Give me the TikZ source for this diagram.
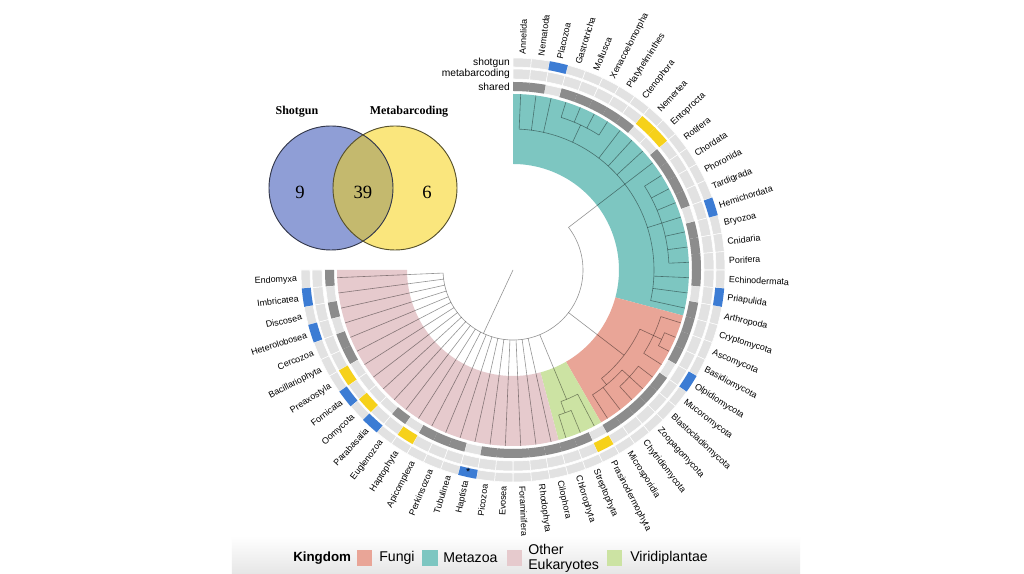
\documentclass[tikz,border=0pt]{standalone}
\usepackage{fontspec}
\setmainfont{Liberation Sans}
\newfontfamily\vennfont{Liberation Serif}

\definecolor{metazoa}{HTML}{7DC6C1}
\definecolor{fungi}{HTML}{E9A597}
\definecolor{otheuk}{HTML}{E6CACD}
\definecolor{viridi}{HTML}{CCE3A3}
\definecolor{cellbg}{HTML}{E2E2E2}
\definecolor{shared}{HTML}{8C8C8C}
\definecolor{metab}{HTML}{F6D11A}
\definecolor{shotg}{HTML}{3C7CD4}
\definecolor{venna}{HTML}{8F9ED6}
\definecolor{vennb}{HTML}{FAE67D}
\definecolor{vennab}{HTML}{C4B96E}

% annular sector: angle from, angle to, inner radius, outer radius
\newcommand{\sect}[4]{(#1:#3) arc[start angle=#1, end angle=#2, radius=#3] -- (#2:#4) arc[start angle=#2, end angle=#1, radius=#4] -- cycle}
\newcommand{\tarc}[3]{\draw[branch] (#2:#1) arc[start angle=#2, end angle=#3, radius=#1];}
\newcommand{\tedge}[3]{\draw[branch] (#1:#2) -- (#1:#3);}

\begin{document}
\begin{tikzpicture}[x=0.75pt, y=0.75pt]
        \tikzstyle{branch}=[draw=black, draw opacity=0.42, line width=0.45pt]
        \tikzstyle{leaflab}=[font=\fontsize{6.7}{8}\selectfont, inner sep=0pt]
        \tikzstyle{ringlab}=[font=\fontsize{7.7}{9}\selectfont, inner sep=0pt, anchor=east]
        \tikzstyle{cell}=[fill=cellbg, draw=white, line width=0.4pt]
        \tikzstyle{venntitle}=[font=\vennfont\bfseries\fontsize{9}{10}\selectfont, inner sep=0pt]
        \tikzstyle{vennnum}=[font=\vennfont\fontsize{14}{16}\selectfont, inner sep=0pt]
        \tikzstyle{legkey}=[minimum width=11.25pt, minimum height=12pt, inner sep=0pt]
        \tikzstyle{leglab}=[font=\fontsize{10.6}{11.2}\selectfont, anchor=west, inner sep=0pt, align=left]

        \useasboundingbox (-513,-304) rectangle (511,270);
        \fill[white] (-513,-304) rectangle (511,270);
        \shade[top color=white, bottom color=black!10] (-281,-266) rectangle (287,-304);

        % clade highlights
        \fill[metazoa] \sect{90}{-15}{106}{176};
        \fill[fungi] \sect{-15}{-60}{106}{176};
        \fill[viridi] \sect{-60}{-75}{106}{176};
        \fill[otheuk] \sect{-75}{-180}{106}{176};

        % tree
        \tedge{-115}{0}{70}
        \tarc{70}{37.5}{-177.5}
        \tedge{37.5}{70}{141}
        \tedge{-37.5}{70}{140}
        \tedge{-67.5}{70}{140}
        \foreach \i in {33,...,53}{\pgfmathsetmacro\a{87.5-5*\i}\tedge{\a}{70}{176}}
        % Metazoa
        \tarc{141}{87.5}{-12.5}
        \foreach \i in {0,1,2,7,8,9,10,18,19,20}{\pgfmathsetmacro\a{87.5-5*\i}\tedge{\a}{141}{176}}
        \tedge{65}{141}{160}
        \tarc{160}{72.5}{57.5}
        \foreach \i in {3,...,6}{\pgfmathsetmacro\a{87.5-5*\i}\tedge{\a}{160}{176}}
        \tedge{17.5}{141}{156}
        \tarc{156}{32.5}{2.5}
        \foreach \i in {11,...,17}{\pgfmathsetmacro\a{87.5-5*\i}\tedge{\a}{156}{176}}
        % Fungi
        \tarc{140}{-25}{-50.8}
        \tedge{-25}{140}{155}
        \tarc{155}{-17.5}{-32.5}
        \tedge{-17.5}{155}{176}
        \tedge{-32.5}{155}{176}
        \tedge{-25}{155}{164}
        \tarc{164}{-22.5}{-27.5}
        \tedge{-22.5}{164}{176}
        \tedge{-27.5}{164}{176}
        \tedge{-50.8}{140}{148}
        \tarc{148}{-42.5}{-57.5}
        \tedge{-52.5}{148}{176}
        \tedge{-57.5}{148}{176}
        \tedge{-42.5}{148}{158}
        \tarc{158}{-37.5}{-47.5}
        \foreach \i in {25,26,27}{\pgfmathsetmacro\a{87.5-5*\i}\tedge{\a}{158}{176}}
        % Viridiplantae
        \tarc{140}{-62.5}{-70}
        \tedge{-62.5}{140}{176}
        \tedge{-70}{140}{152}
        \tarc{152}{-67.5}{-72.5}
        \tedge{-67.5}{152}{176}
        \tedge{-72.5}{152}{176}

        % rings
        \foreach \i in {0,...,53}{
          \pgfmathsetmacro\aa{90-5*\i}\pgfmathsetmacro\ab{85-5*\i}
          \path[cell] \sect{\aa}{\ab}{179}{188};
          \path[cell] \sect{\aa}{\ab}{191}{201};
          \path[cell] \sect{\aa}{\ab}{203}{212};
        }
        \foreach \s [count=\i from 0] in {S,S,B,S,S,S,S,S,Y,Y,S,S,S,S,B,S,S,S,S,B,S,
            S,S,S,B,S,S,S,S,S,Y,S,S,S,S,S,S,S,B,S,S,S,Y,S,B,Y,B,Y,S,S,B,S,B,S}{
          \pgfmathsetmacro\aa{90-5*\i}\pgfmathsetmacro\ab{85-5*\i}
          \if\s S\fill[shared] \sect{\aa}{\ab}{179}{188};\fi
          \if\s Y\fill[metab] \sect{\aa}{\ab}{191}{201};\fi
          \if\s B\fill[shotg] \sect{\aa}{\ab}{203}{212};\fi
        }
        \node[inner sep=0pt, font=\fontsize{8}{8}\selectfont] (star) at (-102.5:206.5) {*};

        \node[ringlab] (shotgunlab) at (-3,207.5) {shotgun};
        \node[ringlab] (metablab) at (-3,196) {metabarcoding};
        \node[ringlab] (sharedlab) at (-3,183.5) {shared};

        % tip labels
        \foreach \lab [count=\i from 0] in {Annelida,Nematoda,Placozoa,Gastrotricha,Mollusca,
            Xenacoelomorpha,Platyhelminthes,Ctenophora,Nemertea,Entoprocta,Rotifera,Chordata,
            Phoronida,Tardigrada,Hemichordata,Bryozoa,Cnidaria,Porifera,Echinodermata,Priapulida,
            Arthropoda,Cryptomycota,Ascomycota,Basidiomycota,Olpidiomycota,Mucoromycota,
            Blastocladiomycota,Zoopagomycota,Chytridiomycota,Microsporidia,Prasinodermophyta,
            Streptophyta,Chlorophyta,Cilophora,Rhodophyta,Foraminifera,Evosea,Picozoa,Haptista,
            Tubulinea,Perkinsozoa,Apicomplexa,Haptophyta,Euglenozoa,Parabasalia,Oomycota,
            Fornicata,Preaxostyla,Bacillariophyta,Cercozoa,Heterolobosea,Discosea,Imbricatea,
            Endomyxa}{
          \pgfmathsetmacro\ang{87.5-5*\i}
          \ifdim\ang pt>-90pt
            \node[leaflab, rotate=\ang, anchor=west] (tip\i) at (\ang:216) {\lab};
          \else
            \pgfmathsetmacro\angb{\ang+180}
            \node[leaflab, rotate=\angb, anchor=east] (tip\i) at (\ang:216) {\lab};
          \fi
        }

        % venn
        \fill[venna] (-182,82) circle[radius=62];
        \fill[vennb] (-118,82) circle[radius=62];
        \begin{scope}
          \clip (-182,82) circle[radius=62];
          \fill[vennab] (-118,82) circle[radius=62];
        \end{scope}
        \draw[venna!35!black, line width=0.7pt] (-182,82) circle[radius=62];
        \draw[vennb!35!black, line width=0.7pt] (-118,82) circle[radius=62];
        \node[venntitle] (sgtitle) at (-216,158) {Shotgun};
        \node[venntitle] (mbtitle) at (-104,158) {Metabarcoding};
        \node[vennnum] (only9) at (-213,78) {9};
        \node[vennnum] (both39) at (-150,78) {39};
        \node[vennnum] (only6) at (-86,78) {6};

        % legend
        \node[leglab, font=\bfseries\fontsize{10}{11}\selectfont] (kingdom) at (-220,-288) {Kingdom};
        \node[legkey, fill=fungi] (kfungi) at (-148,-288) {};
        \node[leglab] (lfungi) at (-134,-288) {Fungi};
        \node[legkey, fill=metazoa] (kmeta) at (-83,-288) {};
        \node[leglab] (lmeta) at (-70,-288) {Metazoa};
        \node[legkey, fill=otheuk] (kother) at (1.5,-288) {};
        \node[leglab] (lother) at (15,-288) {Other\\Eukaryotes};
        \node[legkey, fill=viridi] (kviri) at (101.5,-288) {};
        \node[leglab] (lviri) at (117,-288) {Viridiplantae};
\end{tikzpicture}
\end{document}
